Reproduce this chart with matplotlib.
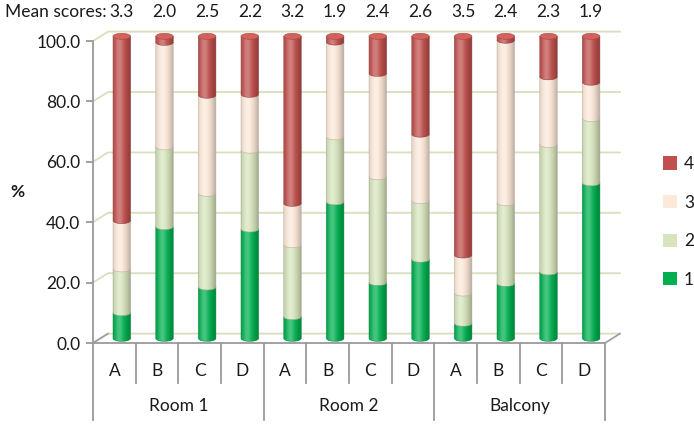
import numpy as np
import matplotlib.pyplot as plt
from matplotlib.patches import Ellipse, Patch, PathPatch
from matplotlib.path import Path
from matplotlib.colors import to_rgb

plt.rcParams['font.family'] = ['Lato', 'DejaVu Sans']

groups = ['Room 1', 'Room 2', 'Balcony']
items = ['A', 'B', 'C', 'D']
mean_scores = ['3.3', '2.0', '2.5', '2.2', '3.2', '1.9', '2.4', '2.6', '3.5', '2.4', '2.3', '1.9']

# % of answers per score, A-D for each location
pct_1 = [8.5, 37.0, 17.0, 36.2, 7.2, 45.2, 18.5, 26.2, 5.0, 18.2, 22.0, 51.5]
pct_2 = [14.5, 26.4, 31.0, 26.1, 23.8, 21.5, 35.0, 19.4, 10.0, 26.7, 42.2, 21.3]
pct_3 = [16.0, 34.6, 32.5, 18.5, 13.7, 31.4, 34.2, 22.0, 12.6, 53.8, 22.4, 12.0]
pct_4 = [61.0, 2.0, 19.5, 19.2, 55.3, 1.9, 12.3, 32.4, 72.4, 1.3, 13.4, 15.2]
score_names = ['1', '2', '3', '4']
score_colors = ['#00b050', '#d7e4bd', '#fde9d9', '#c0504d']

W, H = 694, 425
fig = plt.figure(figsize=(W / 100, H / 100), dpi=100)
ax = fig.add_axes([93 / W, (H - 343) / H, (605 - 93) / W, (343 - 41) / H])

n = len(pct_1)
x = np.arange(n)
dx, dy = 0.35, 3.1   # depth of the 3d box
bw, eh = 0.41, 2.0   # cylinder width / ellipse height
grid_c = '#d6e0bd'
axis_c = '#9a9a9a'
txt_c = '#1a1a1a'
fs = 12.5


def shade(col):
    base = np.array(to_rgb(col))
    u = np.linspace(0, 1, 80)
    hi = np.exp(-((u - 0.35) / 0.22) ** 2)
    dark = 1 - 0.28 * (np.abs(u - 0.38) / 0.62) ** 2
    rgb = base[None, :] * dark[:, None] + (1 - base[None, :]) * 0.28 * hi[:, None]
    return np.clip(rgb, 0, 1)[None, :, :]


# back wall grid + floor
for v in range(0, 101, 20):
    ax.plot([-0.5, -0.5 + dx, n - 0.5 + dx], [v, v + dy, v + dy], color=grid_c,
            lw=1.3, clip_on=False, zorder=0)
ax.plot([-0.5, -0.5 + dx], [0, dy], color=axis_c, lw=1.2, clip_on=False, zorder=1)
ax.plot([n - 0.5, n - 0.5 + dx], [0, dy], color=axis_c, lw=1.2, clip_on=False, zorder=1)

# cylinders
bottoms = np.zeros(n)
theta = np.linspace(np.pi, 2 * np.pi, 40)
z = 2
for vals, col in zip([pct_1, pct_2, pct_3, pct_4], score_colors):
    edge = tuple(np.array(to_rgb(col)) * 0.75)
    for i in range(n):
        b = bottoms[i] + dy / 2
        t = b + vals[i]
        xc = x[i] + dx / 2
        verts = [(xc - bw / 2, t)]
        verts += list(zip(xc + bw / 2 * np.cos(theta), b + eh / 2 * np.sin(theta)))
        verts += [(xc + bw / 2, t), (xc - bw / 2, t)]
        p = PathPatch(Path(verts), facecolor='none', edgecolor=edge, lw=0.4,
                      zorder=z + 1, clip_on=False)
        ax.add_patch(p)
        im = ax.imshow(shade(col), extent=[xc - bw / 2, xc + bw / 2, b - eh / 2, t],
                       aspect='auto', interpolation='bilinear', zorder=z)
        im.set_clip_box(fig.bbox)
        im.set_clip_path(p)
    bottoms += np.array(vals)
    z += 2

top_col = '#d3625e'
for i in range(n):
    ax.add_patch(Ellipse((x[i] + dx / 2, bottoms[i] + dy / 2), bw, eh,
                         facecolor=top_col, edgecolor='#a84542', lw=0.4, zorder=z,
                         clip_on=False))

ax.set_xlim(-0.5, n - 0.5)
ax.set_ylim(0, 100)

# axes
for s in ['top', 'right']:
    ax.spines[s].set_visible(False)
for s in ['left', 'bottom']:
    ax.spines[s].set_color(axis_c)
    ax.spines[s].set_linewidth(1.3)
ax.set_xticks([])
ax.set_yticks(range(0, 101, 20))
ax.set_yticklabels([f'{v:.1f}' for v in range(0, 101, 20)])
ax.tick_params(axis='y', direction='out', length=5, width=1.3, color=axis_c,
               labelsize=fs, labelcolor=txt_c, pad=4)

# category axis (two levels)
tr = ax.get_xaxis_transform()
for i in range(n):
    ax.text(x[i], -0.093, items[i % len(items)], transform=tr, ha='center', va='center',
            fontsize=fs, color=txt_c)
for i in range(1, n):
    if i % len(items):
        ax.plot([i - 0.5, i - 0.5], [0, -0.133], transform=tr, color=axis_c, lw=1.3, clip_on=False)
for g in range(len(groups) + 1):
    xg = g * len(items) - 0.5
    ax.plot([xg, xg], [0, -0.255], transform=tr, color=axis_c, lw=1.3, clip_on=False)
for g, name in enumerate(groups):
    ax.text(g * len(items) + 1.5, -0.21, name, transform=tr, ha='center', va='center',
            fontsize=fs, color=txt_c)

# mean scores on top
fig.text(5 / W, 1 - 12 / H, 'Mean scores:', ha='left', va='center', fontsize=fs, color=txt_c)
for i in range(n):
    ax.text(x[i] + dx / 2, (343 - 12) / 302, mean_scores[i], transform=tr,
            ha='center', va='center', fontsize=fs, color=txt_c)

fig.text(10 / W, 1 - 192 / H, '%', ha='left', va='center', fontsize=fs,
         fontweight='bold', color=txt_c)

handles = [Patch(facecolor=c, edgecolor='none') for c in score_colors][::-1]
fig.legend(handles, score_names[::-1], loc='center left', bbox_to_anchor=(663 / W, 1 - 222 / H),
           frameon=False, fontsize=fs, handlelength=0.8, handleheight=0.8,
           handletextpad=0.4, labelspacing=1.3, borderpad=0, borderaxespad=0,
           labelcolor=txt_c)

fig.savefig('out.png', dpi=100)
